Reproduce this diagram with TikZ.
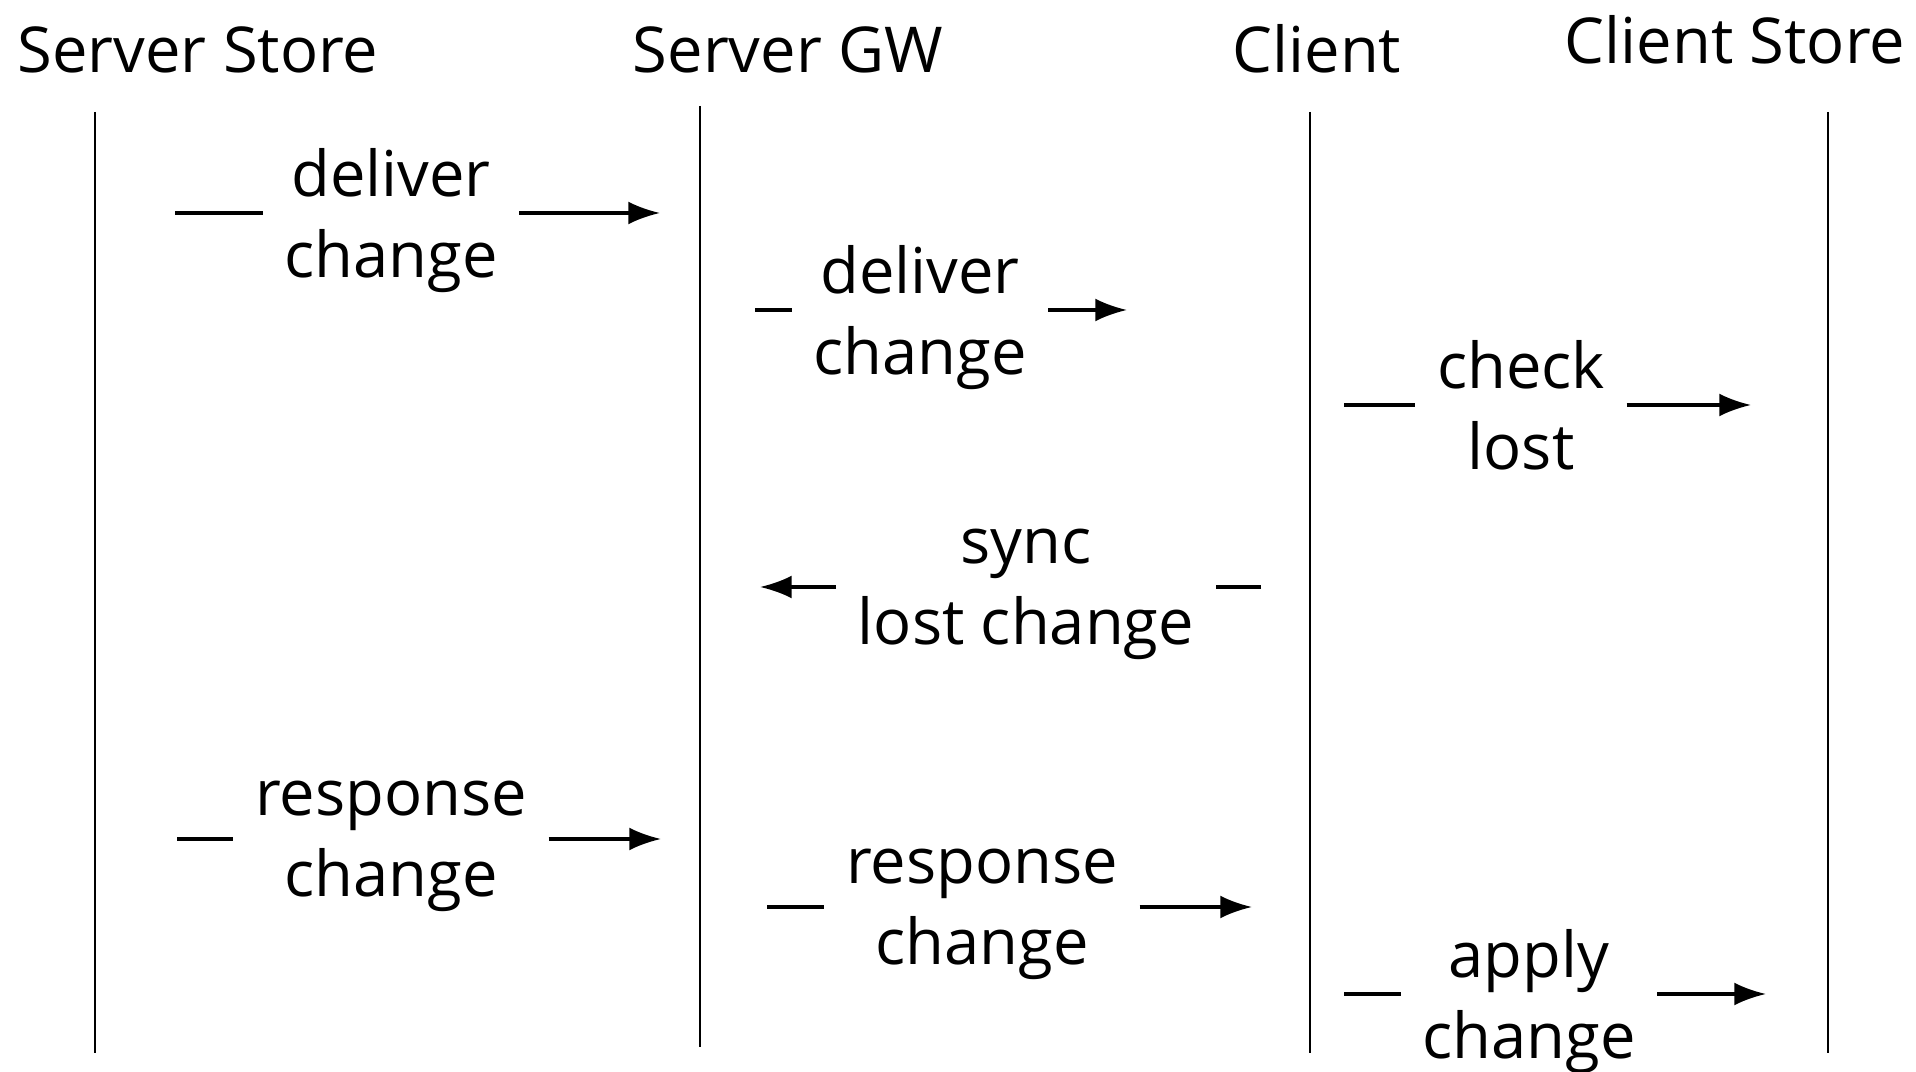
\documentclass[tikz,border=0pt]{standalone}
\usepackage{fontspec}
\setmainfont{Open Sans}
\usepackage{tikz}
\usetikzlibrary{arrows.meta}
\tikzstyle{sqheader}=[anchor=base, inner sep=0pt, font=\fontsize{18}{23}\selectfont]
\tikzstyle{sqlife}=[draw, line width=0.8pt]
\tikzstyle{sqmessage}=[align=center, inner xsep=6pt, inner ysep=0pt, text depth=0pt, font=\fontsize{18}{23}\selectfont]
\tikzstyle{sqline}=[draw, line width=0.9pt]
\tikzstyle{sqarrow}=[draw, line width=0.9pt, -{Latex[length=9pt,width=6.5pt]}]
\newcommand{\sqlifeline}[6]{
	\node[sqheader] (#1) at (#2) {#6};
	\coordinate (#1-top) at (#3,#4);
	\coordinate (#1-bot) at (#3,#5);
	\path[sqlife] (#1-top) -- (#1-bot);}
\newcommand{\sqmsg}[6]{
	\node[sqmessage] (#1) at (#2,#3) {#6};
	\coordinate (#1-s) at (#4,#3);
	\coordinate (#1-e) at (#5,#3);
	\path[sqline] (#1-s) -- (#1);
	\path[sqarrow] (#1) -- (#1-e);}

\begin{document}
\begin{tikzpicture}
\useasboundingbox (0cm,0cm) rectangle (19.16cm,-10.72cm);

\sqlifeline{ss}{1.98cm,-0.73cm}{0.95cm}{-1.12cm}{-10.53cm}{Server Store}
\sqlifeline{gw}{7.88cm,-0.73cm}{7.00cm}{-1.06cm}{-10.47cm}{Server GW}
\sqlifeline{cl}{13.17cm,-0.73cm}{13.10cm}{-1.12cm}{-10.53cm}{Client}
\sqlifeline{cs}{17.35cm,-0.64cm}{18.28cm}{-1.12cm}{-10.53cm}{Client Store}

\sqmsg{deliver1}{3.91cm}{-2.13cm}{1.75cm}{6.60cm}{deliver\\change}
\sqmsg{deliver2}{9.20cm}{-3.10cm}{7.55cm}{11.27cm}{deliver\\change}
\sqmsg{check}{15.21cm}{-4.05cm}{13.44cm}{17.51cm}{check\\lost}
\sqmsg{sync}{10.26cm}{-5.87cm}{12.61cm}{7.60cm}{sync\\lost change}
\sqmsg{response1}{3.91cm}{-8.39cm}{1.77cm}{6.61cm}{response\\change}
\sqmsg{response2}{9.82cm}{-9.07cm}{7.67cm}{12.52cm}{response\\change}
\sqmsg{apply}{15.29cm}{-9.94cm}{13.44cm}{17.66cm}{apply\\change}
\end{tikzpicture}
\end{document}
